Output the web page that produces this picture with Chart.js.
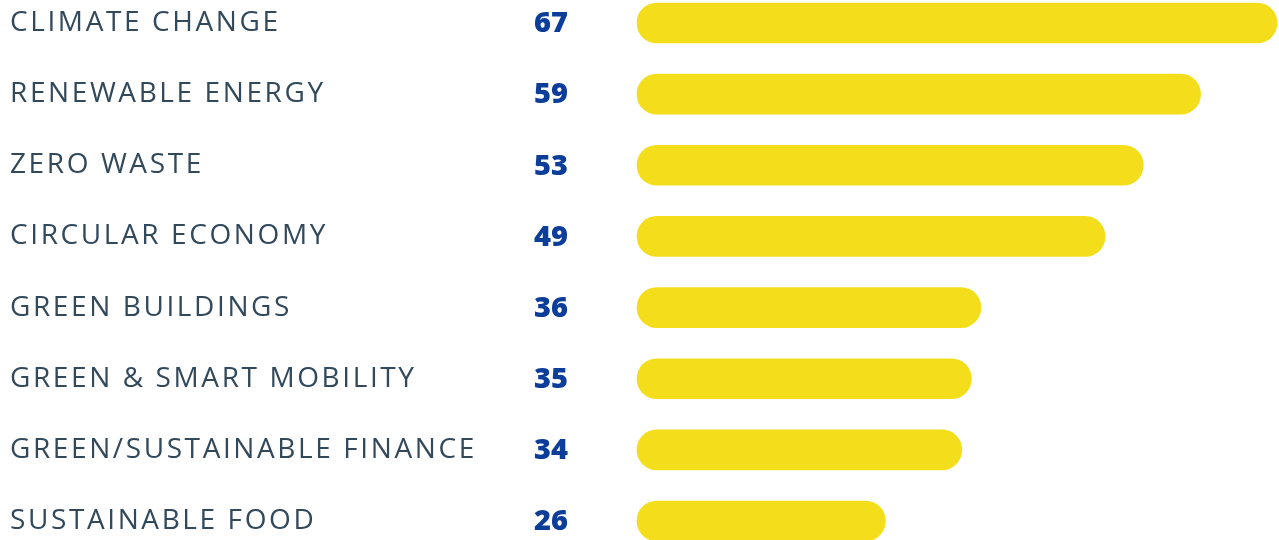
<!DOCTYPE html>
<html>
<head>
<meta charset="utf-8">
<script src="https://cdn.jsdelivr.net/npm/chart.js@4/dist/chart.umd.min.js"></script>
<style>
  html, body { margin: 0; padding: 0; background: #ffffff; }
  #wrap { width: 1279px; height: 540px; }
</style>
</head>
<body>
<div id="wrap"><canvas id="c" width="1279" height="540"></canvas></div>
<script>
const categories = [
  'CLIMATE CHANGE',
  'RENEWABLE ENERGY',
  'ZERO WASTE',
  'CIRCULAR ECONOMY',
  'GREEN BUILDINGS',
  'GREEN & SMART MOBILITY',
  'GREEN/SUSTAINABLE FINANCE',
  'SUSTAINABLE FOOD'
];
const values = [67, 59, 53, 49, 36, 35, 34, 26];
const valueLabels = ['67', '59', '53', '49', '36', '35', '34', '26'];

const BAR_COLOR = '#F4DE1B';
const LABEL_COLOR = '#32495C';
const VALUE_COLOR = '#0C3D99';

const spacingPlugin = {
  id: 'spacing',
  beforeDraw(chart) { chart.ctx.save(); chart.ctx.letterSpacing = '2.6px'; },
  beforeDatasetsDraw(chart) { chart.ctx.restore(); }
};

const valuePlugin = {
  id: 'valueText',
  afterDatasetsDraw(chart) {
    const ctx = chart.ctx;
    const meta = chart.getDatasetMeta(0);
    ctx.save();
    ctx.font = '800 29px "Open Sans", sans-serif';
    ctx.fillStyle = VALUE_COLOR;
    ctx.textAlign = 'center';
    ctx.textBaseline = 'middle';
    meta.data.forEach((bar, i) => {
      ctx.fillText(valueLabels[i], 551, bar.y + 1);
    });
    ctx.restore();
  }
};

new Chart(document.getElementById('c'), {
  type: 'bar',
  data: {
    labels: categories,
    datasets: [{
      data: values,
      backgroundColor: BAR_COLOR,
      borderRadius: 20,
      borderSkipped: false,
      barThickness: 40,
      clip: false
    }]
  },
  options: {
    indexAxis: 'y',
    responsive: false,
    animation: false,
    layout: { padding: { top: 23, bottom: 19, left: 10, right: 2 } },
    plugins: { legend: { display: false }, tooltip: { enabled: false } },
    scales: {
      x: { display: false, min: 0, max: 67 },
      y: {
        offset: false,
        grid: { display: false },
        border: { display: false },
        afterFit(scale) { scale.width = 627; },
        ticks: {
          crossAlign: 'far',
          padding: 0,
          color: LABEL_COLOR,
          font: { family: '"Open Sans", sans-serif', size: 28, weight: '400' }
        }
      }
    }
  },
  plugins: [spacingPlugin, valuePlugin]
});
</script>
</body>
</html>
